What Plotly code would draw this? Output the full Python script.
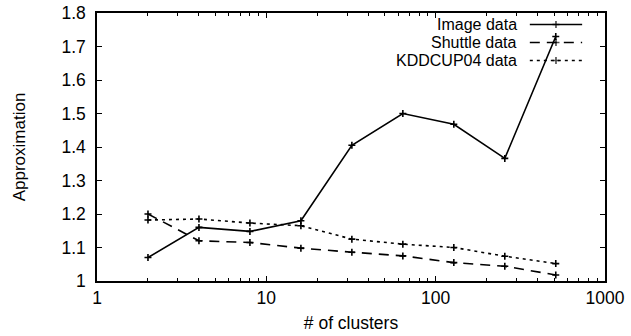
import plotly.graph_objects as go

# Number of clusters (log scale on x)
clusters = [2, 4, 8, 16, 32, 64, 128, 256, 512]

# Approximation ratio per dataset
image_data = [1.07, 1.16, 1.148, 1.18, 1.405, 1.50, 1.468, 1.366, 1.73]
shuttle_data = [1.20, 1.12, 1.115, 1.098, 1.086, 1.075, 1.055, 1.044, 1.018]
kddcup_data = [1.182, 1.185, 1.173, 1.165, 1.125, 1.11, 1.10, 1.074, 1.052]

series_names = ["Image data", "Shuttle data", "KDDCUP04 data"]
series_values = [image_data, shuttle_data, kddcup_data]
series_dash = ["solid", "10px,7px", "3px,4px"]

x_tick_vals = [1, 10, 100, 1000]
x_tick_text = ["1", "10", "100", "1000"]
y_tick_vals = [1, 1.1, 1.2, 1.3, 1.4, 1.5, 1.6, 1.7, 1.8]
y_tick_text = ["1", "1.1", "1.2", "1.3", "1.4", "1.5", "1.6", "1.7", "1.8"]

FONT = "Liberation Sans, Arial, sans-serif"
FS = 17.5
KEY_FS = 16

fig = go.Figure()

marker = dict(symbol="cross-thin", size=5, color="black",
              line=dict(width=1.6, color="black"))

for name, vals, dash in zip(series_names, series_values, series_dash):
    fig.add_trace(go.Scatter(
        x=clusters, y=vals, mode="lines+markers", name=name,
        line=dict(color="black", width=1.6, dash=dash),
        marker=marker, showlegend=False,
    ))

# Key entries in the top-right corner: text right-aligned, sample line after it
key_y = [0.957, 0.890, 0.823]
key_x0, key_x1, key_xm, key_text_x = 0.852, 0.955, 0.9035, 0.829
for name, dash, ky in zip(series_names, series_dash, key_y):
    fig.add_trace(go.Scatter(
        x=[key_x0, key_xm, key_x1], y=[ky, ky, ky], xaxis="x2", yaxis="y2",
        mode="lines+markers",
        line=dict(color="black", width=1.6, dash=dash),
        marker=dict(symbol="cross-thin", size=[0, 5, 0], color="black",
                    line=dict(width=1.6, color="black")),
        showlegend=False, hoverinfo="skip",
    ))
    fig.add_annotation(
        x=key_text_x, y=ky, xref="paper", yref="paper",
        text=name, showarrow=False, xanchor="right", yanchor="middle",
        borderpad=0, font=dict(family=FONT, size=KEY_FS, color="black"),
    )

axis_common = dict(
    showline=True, linecolor="black", linewidth=1.5, mirror="allticks",
    ticks="inside", tickcolor="black", tickwidth=1, showgrid=False,
    zeroline=False, automargin=False,
    tickfont=dict(family=FONT, size=FS, color="black"),
)

fig.update_layout(
    width=631, height=336,
    margin=dict(l=97, r=26, t=13, b=55),
    plot_bgcolor="white", paper_bgcolor="white",
    font=dict(family=FONT, size=FS, color="black"),
    xaxis=dict(
        type="log", range=[0, 3], tickvals=x_tick_vals, ticktext=x_tick_text,
        ticklen=5,
        minor=dict(ticks="inside", ticklen=3, tickcolor="black", dtick="D1",
                   showgrid=False),
        title=dict(text="# of clusters", font=dict(family=FONT, size=FS),
                   standoff=10),
        **axis_common,
    ),
    yaxis=dict(
        range=[1, 1.8], tickvals=y_tick_vals, ticktext=y_tick_text,
        ticklen=5, ticklabelstandoff=6,
        title=dict(text="Approximation", font=dict(family=FONT, size=17),
                   standoff=31),
        **axis_common,
    ),
    xaxis2=dict(overlaying="x", range=[0, 1], visible=False, fixedrange=True),
    yaxis2=dict(overlaying="y", range=[0, 1], visible=False, fixedrange=True),
)

fig.write_html("out.html")
